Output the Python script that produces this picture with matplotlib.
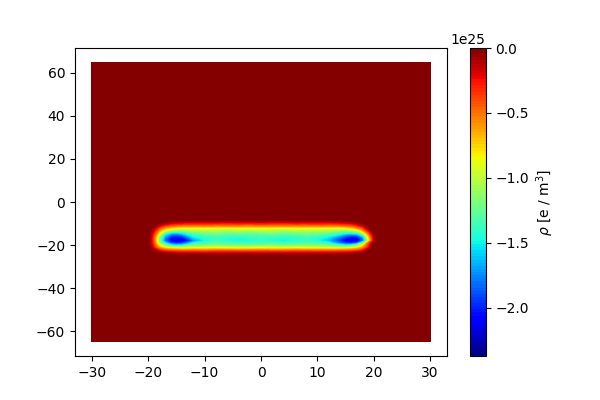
import matplotlib
matplotlib.use("Agg")
import matplotlib.pyplot as plt
import numpy as np

# density map, in units of 1e23 e/m^3
x_vals = [-30, -20, -19.5, -19, -18.5, -18, -17, -16, -15, -14, -13, -12,
          -10, -8, -6, -4, -2, 0, 2, 4, 6, 8, 10,
          12, 13, 14, 15, 16, 17, 18, 18.5, 19, 19.5, 20, 20.5, 30]
y_vals = [-65, -25, -24, -23, -22, -21, -20, -19, -18, -17, -16, -15, -14, -13, -12, -11, -10, -9, -8, 65]

row_m24 = [0, 0, 0, 0, -2, -5, -7, -9, -10, -11, -12, -12, -13, -12, -11, -12, -12, -11, -12, -13, -12, -11, -12, -12, -11, -10, -7, -5, -2, 0, 0, 0, 0, 0]
row_m23 = [0, 0, -2, -8, -16, -25, -28, -30, -32, -33, -32, -34, -32, -30, -32, -33, -31, -32, -34, -32, -31, -33, -32, -32, -31, -30, -28, -25, -16, -8, -2, 0, 0, 0]
row_m22 = [0, -3, -12, -25, -42, -55, -62, -67, -68, -68, -67, -68, -65, -67, -69, -67, -66, -68, -67, -65, -68, -67, -68, -68, -68, -67, -62, -55, -42, -25, -12, -3, 0, 0]
row_m21 = [0, -8, -30, -50, -70, -90, -100, -105, -105, -102, -100, -98, -96, -98, -100, -97, -95, -98, -100, -97, -98, -100, -102, -104, -105, -105, -100, -90, -70, -50, -30, -10, 0, 0]
row_m20 = [0, -12, -35, -62, -88, -120, -150, -160, -155, -140, -125, -122, -120, -125, -122, -125, -123, -120, -125, -122, -120, -122, -125, -132, -145, -155, -150, -125, -90, -62, -38, -14, 0, 0]
row_m19 = [0, -15, -42, -75, -110, -155, -190, -200, -195, -175, -150, -135, -130, -133, -135, -137, -135, -132, -135, -137, -133, -135, -145, -165, -180, -195, -200, -190, -130, -90, -55, -22, -3, 0]
row_m18 = [0, -15, -45, -80, -115, -185, -205, -215, -212, -205, -180, -148, -138, -142, -150, -145, -140, -145, -152, -142, -138, -145, -165, -180, -195, -210, -215, -212, -190, -150, -95, -55, -18, 0]
row_m17 = [0, -15, -45, -80, -115, -180, -205, -212, -210, -190, -165, -145, -140, -145, -148, -143, -140, -143, -148, -143, -140, -145, -160, -175, -190, -205, -215, -212, -185, -145, -92, -52, -16, 0]
row_m16 = [0, -14, -42, -75, -110, -170, -195, -200, -195, -172, -150, -138, -135, -138, -140, -137, -135, -138, -140, -137, -135, -138, -150, -160, -175, -190, -200, -200, -165, -125, -80, -45, -14, 0]
row_m15 = [0, -12, -35, -62, -95, -150, -175, -182, -170, -150, -135, -128, -125, -130, -128, -130, -128, -125, -130, -128, -125, -128, -133, -140, -150, -165, -170, -165, -130, -95, -62, -32, -8, 0]
row_m14 = [0, -8, -28, -50, -78, -115, -140, -148, -140, -130, -122, -118, -115, -120, -118, -120, -118, -115, -120, -118, -115, -118, -120, -125, -130, -135, -135, -125, -92, -65, -42, -18, -2, 0]
row_m13 = [0, -4, -18, -35, -58, -85, -102, -108, -108, -105, -103, -100, -102, -105, -100, -103, -100, -102, -105, -100, -102, -100, -103, -105, -108, -108, -102, -90, -62, -42, -22, -6, 0, 0]
row_m12 = [0, 0, -8, -22, -42, -62, -75, -82, -85, -85, -85, -83, -85, -87, -83, -85, -84, -83, -86, -85, -83, -85, -85, -85, -85, -82, -75, -62, -42, -22, -8, 0, 0, 0]
row_m11 = [0, 0, -2, -8, -18, -35, -45, -50, -53, -55, -55, -53, -56, -54, -55, -57, -54, -55, -53, -56, -55, -54, -55, -55, -53, -50, -45, -35, -18, -8, -2, 0, 0, 0]
row_m10 = [0, 0, 0, -2, -5, -15, -22, -26, -28, -30, -30, -29, -31, -32, -30, -31, -29, -31, -32, -30, -31, -29, -31, -30, -28, -26, -22, -15, -5, -2, 0, 0, 0, 0]
row_m09 = [0, 0, 0, 0, 0, -3, -6, -8, -10, -11, -12, -12, -11, -12, -13, -12, -11, -12, -12, -11, -12, -12, -12, -11, -10, -8, -6, -3, 0, 0, 0, 0, 0, 0]
row_zero = [0] * 34

rows = [row_zero, row_zero, row_m24, row_m23, row_m22, row_m21, row_m20, row_m19, row_m18, row_m17,
        row_m16, row_m15, row_m14, row_m13, row_m12, row_m11, row_m10, row_m09, row_zero, row_zero]
rho_min = -2.37e25
rho_max = 0.0


def main():
    # outer columns at x = -30 and x = 30 are zero as well
    rho = np.pad(np.array(rows, dtype=float), ((0, 0), (1, 1))) * 1e23
    fig, ax = plt.subplots(figsize=(6, 4), dpi=100)
    levels = np.linspace(rho_min, rho_max, 100)
    cs = ax.contourf(x_vals, y_vals, rho, levels=levels, cmap="jet")
    ax.set_xlim(-33, 33)
    ax.set_ylim(-71.5, 71.5)
    cbar = fig.colorbar(cs, ticks=[0, -0.5e25, -1e25, -1.5e25, -2e25])
    cbar.set_label(r"$\rho$ [e / m$^3$]")
    fig.savefig("out.png", dpi=100)


if __name__ == "__main__":
    main()
